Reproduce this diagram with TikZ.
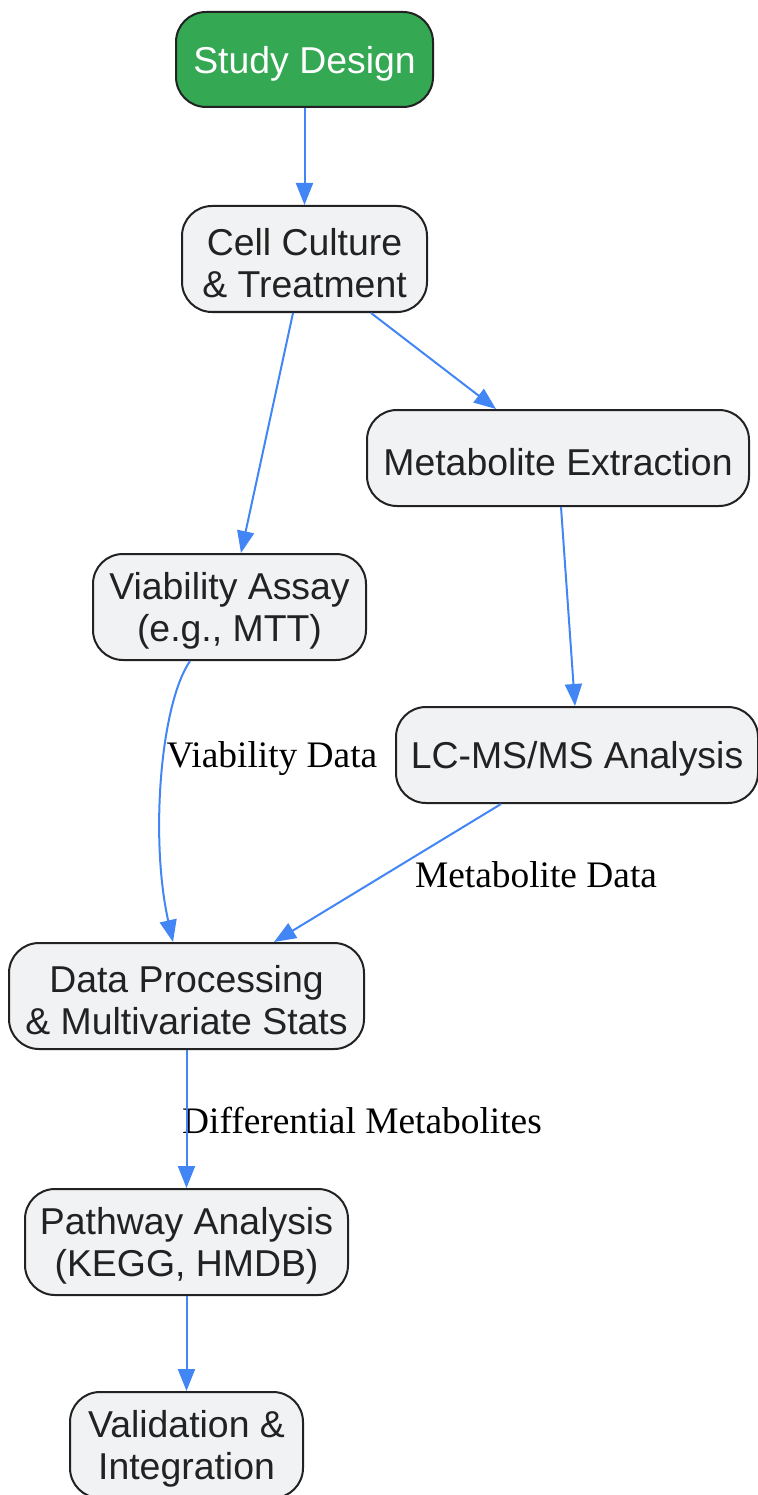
\documentclass[tikz,border=0pt]{standalone}
\usepackage{fontspec}
\setmainfont{Liberation Serif}
\setsansfont{Liberation Sans}
\usetikzlibrary{arrows.meta}

\definecolor{edgeBlue}{RGB}{66,133,244}
\definecolor{stepFill}{RGB}{241,242,244}
\definecolor{stepBorder}{RGB}{34,34,34}
\definecolor{startGreen}{RGB}{52,168,83}

\newcommand{\boxLineWidth}{2}
\newcommand{\edgeLineWidth}{2}
\newcommand{\boxRadius}{30pt}
\newcommand{\oneLineH}{96pt}
\newcommand{\twoLineH}{106pt}
\newcommand{\stepStrut}{\rule{0pt}{35.5pt}}

\tikzset{
  stepbox/.style={draw=stepBorder, fill=stepFill, text=stepBorder, line width=\boxLineWidth,
    rounded corners=\boxRadius, align=center, inner sep=0pt,
    font=\sffamily\fontsize{37.4}{42}\selectfont},
  startbox/.style={stepbox, fill=startGreen, text=white},
  flowedge/.style={draw=edgeBlue, line width=\edgeLineWidth, -{Triangle[length=22pt,width=17pt]}},
  edgelabel/.style={text=black, inner sep=0pt, font=\rmfamily\fontsize{37.4}{42}\selectfont}
}

\begin{document}
\begin{tikzpicture}[x=1pt,y=-1pt]
        \useasboundingbox (0,0) rectangle (757,1495);

        % Steps
        \node[startbox, minimum width=257pt, minimum height=95pt] (design) at (304.5,59.5) {\stepStrut Study Design};
        \node[stepbox, minimum width=245pt, minimum height=\twoLineH] (culture) at (304.5,259) {\stepStrut Cell Culture\\\& Treatment};
        \node[stepbox, minimum width=382pt, minimum height=\oneLineH] (extract) at (558,458) {\stepStrut Metabolite Extraction};
        \node[stepbox, minimum width=273pt, minimum height=\twoLineH] (viab) at (229.5,607) {\stepStrut Viability Assay\\(e.g., MTT)};
        \node[stepbox, minimum width=362pt, minimum height=\oneLineH] (lcms) at (577,755) {\stepStrut LC-MS/MS Analysis};
        \node[stepbox, minimum width=355pt, minimum height=\twoLineH] (proc) at (186.5,996) {\stepStrut Data Processing\\\& Multivariate Stats};
        \node[stepbox, minimum width=323pt, minimum height=\twoLineH] (pathway) at (186.5,1242) {\stepStrut Pathway Analysis\\(KEGG, HMDB)};
        \node[stepbox, minimum width=233pt, minimum height=\twoLineH] (valid) at (186.5,1445) {\stepStrut Validation \&\\Integration};

        % Edge labels
        \node[edgelabel] (viabLabel) at (272,759) {Viability Data};
        \node[edgelabel] (metabLabel) at (536,875) {Metabolite Data};
        \node[edgelabel] (diffLabel) at (362,1121) {Differential Metabolites};

        % Draw main flow
        \draw[flowedge] (design.south) -- (culture.north);
        \draw[flowedge] ([xshift=-11.5pt]culture.south) -- ([xshift=11.5pt]viab.north);
        \draw[flowedge] ([xshift=66.5pt]culture.south) -- ([xshift=-62pt]extract.north);
        \draw[flowedge] ([xshift=3pt]extract.south) -- ([xshift=-2pt]lcms.north);

        % Draw data flow into processing
        \draw[flowedge] ([xshift=-39.5pt]viab.south) .. controls (160,705) and (150,840) .. ([xshift=-13.5pt]proc.north);
        \draw[flowedge] ([xshift=-76pt]lcms.south) -- ([xshift=87.5pt]proc.north);
        \draw[flowedge] (proc.south) -- (pathway.north);
        \draw[flowedge] (pathway.south) -- (valid.north);
    \end{tikzpicture}
\end{document}
